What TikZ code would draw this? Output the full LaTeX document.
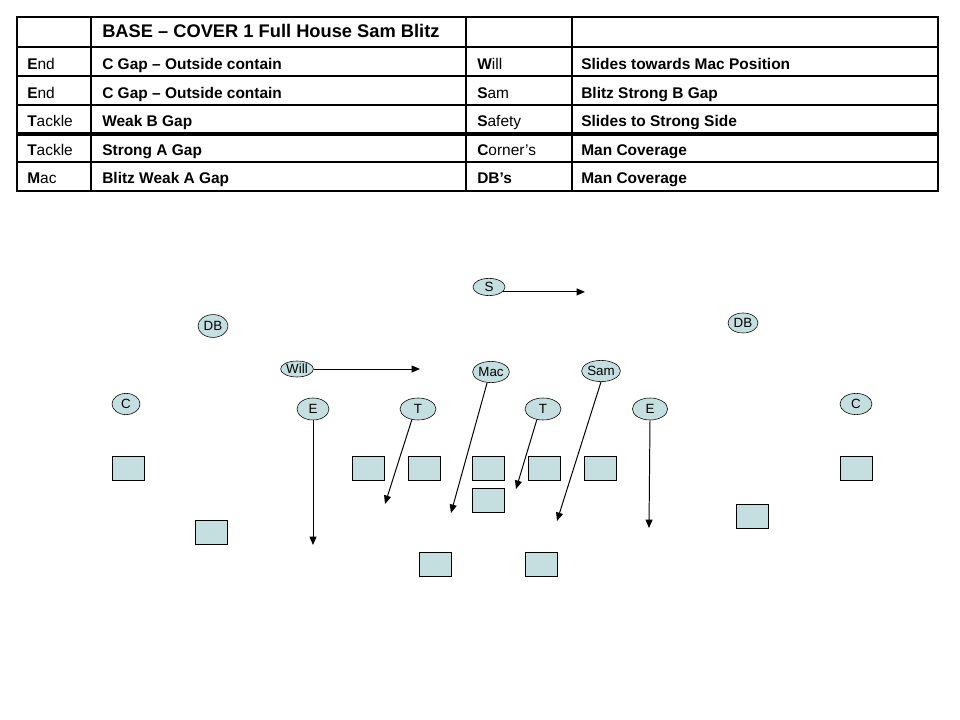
\documentclass[tikz,border=0pt]{standalone}
\usepackage{fontspec}
\setmainfont{Liberation Sans}
\usetikzlibrary{arrows.meta,shapes.geometric}

\definecolor{playerfill}{RGB}{197,223,225}

\tikzset{
  rule/.style={line width=1.3pt},
  head/.style={anchor=base west, inner sep=0pt, font=\bfseries\fontsize{13}{15}\selectfont},
  cell/.style={anchor=base west, inner sep=0pt, font=\fontsize{11}{13}\selectfont},
  player/.style={ellipse, draw, fill=playerfill, inner sep=0pt,
    minimum width=0.8cm, minimum height=0.53cm, font=\fontsize{9.5}{10}\selectfont},
  block/.style={draw, fill=playerfill, minimum width=0.8cm, minimum height=0.6cm},
  run/.style={line width=0.7pt, -{Triangle[length=6pt,width=5pt]}},
}

\begin{document}
\begin{tikzpicture}[x=0.025cm, y=-0.025cm]
    \useasboundingbox (0,0) rectangle (960,720);

    % Bang phan cong
    \draw[rule] (17,17) rectangle (938,191);
    \foreach \y in {47,76,105,162} \draw[rule] (17,\y) -- (938,\y);
    \draw[rule, line width=2.2pt] (17,134) -- (938,134);
    \foreach \x in {91,466,572} \draw[rule] (\x,17) -- (\x,191);

    \node[head] (title) at (102,37.5) {BASE – COVER 1 Full House Sam Blitz};

    \foreach \pos/\job/\spot/\task [count=\i] in {
        {\textbf{E}nd}/{C Gap – Outside contain}/{\textbf{W}ill}/{Slides towards Mac Position},
        {\textbf{E}nd}/{C Gap – Outside contain}/{\textbf{S}am}/{Blitz Strong B Gap},
        {\textbf{T}ackle}/{Weak B Gap}/{\textbf{S}afety}/{Slides to Strong Side},
        {\textbf{T}ackle}/{Strong A Gap}/{\textbf{C}orner’s}/{Man Coverage},
        {\textbf{M}ac}/{Blitz Weak A Gap}/{\textbf{DB’s}}/{Man Coverage}}
    {
        \pgfmathsetmacro\rowy{41+28.6*\i}
        \node[cell] (pos\i) at (27,\rowy) {\pos};
        \node[cell, font=\bfseries\fontsize{11}{13}\selectfont] (job\i) at (102,\rowy) {\job};
        \node[cell] (spot\i) at (477,\rowy) {\spot};
        \node[cell, font=\bfseries\fontsize{11}{13}\selectfont] (task\i) at (581,\rowy) {\task};
    }

    % Hang phong thu
    \node[player, minimum height=0.43cm] (safety) at (489,287) {S};
    \node[player, minimum width=0.75cm, minimum height=0.57cm] (dbL) at (213,326) {DB};
    \node[player, minimum width=0.75cm, minimum height=0.5cm] (dbR) at (743,323) {DB};
    \node[player, minimum width=0.82cm, minimum height=0.4cm] (will) at (297,369) {Will};
    \node[player, minimum width=0.92cm] (mac) at (491,372) {Mac};
    \node[player] (sam) at (601,371) {Sam};
    \node[player, minimum width=0.7cm] (cL) at (126,404) {C};
    \node[player] (cR) at (856,404) {C};
    \node[player, minimum height=0.55cm] (eL) at (313,409) {E};
    \node[player, minimum width=0.9cm, minimum height=0.55cm] (tL) at (418,409) {T};
    \node[player, minimum width=0.9cm, minimum height=0.55cm] (tR) at (543,409) {T};
    \node[player, minimum width=0.88cm, minimum height=0.55cm] (eR) at (650,409) {E};

    % Diem den cua cac mui ten
    \coordinate (safetyTo) at (585,295);
    \coordinate (willTo) at (420,367);
    \coordinate (eLTo) at (313,545);
    \coordinate (tLTo) at (385,504);
    \coordinate (macTo) at (451,513);
    \coordinate (tRTo) at (516,489);
    \coordinate (samTo) at (557,521);
    \coordinate (eRTo) at (649,528);

    \draw[run] (safety.-20) -- (safety.-20 -| safetyTo);
    \draw[run] (will.east) -- (will.east -| willTo);
    \draw[run] (eL.south) -- (eLTo);
    \draw[run] (tL.240) -- (tLTo);
    \draw[run] (mac.250) -- (macTo);
    \draw[run] (tR.240) -- (tRTo);
    \draw[run] (sam.south) -- (samTo);
    \draw[run] (eR.south) -- (eRTo);

    % Hang tan cong
    \foreach \x/\y [count=\k] in {128/468, 368/468, 424/468, 488/468, 544/468, 600/468,
        856/468, 488/500, 211/532, 752/516, 435/564, 541/564}
        \node[block] (ol\k) at (\x,\y) {};

\end{tikzpicture}
\end{document}
